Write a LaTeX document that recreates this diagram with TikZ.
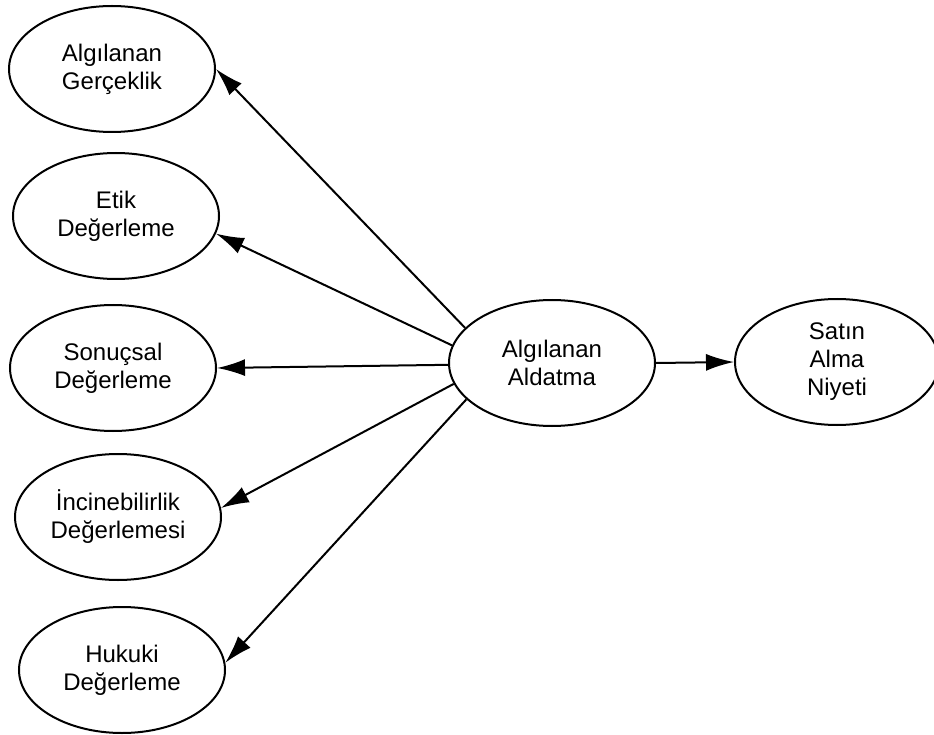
\documentclass[tikz,border=0pt]{standalone}
\usepackage{fontspec}
\setmainfont{Liberation Sans}
\usetikzlibrary{shapes.geometric,arrows.meta}
\begin{document}
\begin{tikzpicture}[x=1pt,y=-1pt,
  construct/.style={ellipse,draw,line width=2pt,inner sep=0pt,
    minimum width=206pt,minimum height=126pt,align=center,
    font=\fontsize{24}{28}\selectfont},
  link/.style={line width=2pt,-{Latex[length=28pt,width=17pt]}}]
  \useasboundingbox (0,0) rectangle (934,735);
  \clip (0,0) rectangle (934,735);
  \fill[white] (0,0) rectangle (934,735);

  % measured constructs on the left
  \node[construct] (ger) at (112,69)  {Algılanan\\Gerçeklik};
  \node[construct] (eti) at (116,216) {Etik\\Değerleme};
  \node[construct] (son) at (113,368) {Sonuçsal\\Değerleme};
  \node[construct] (inc) at (118,517) {İncinebilirlik\\Değerlemesi};
  \node[construct] (huk) at (122,670) {Hukuki\\Değerleme};

  % central construct and outcome
  \node[construct] (ald) at (552,363) {Algılanan\\Aldatma};
  \node[construct,minimum width=204pt] (niy) at (837,362) {Satın\\Alma\\Niyeti};

  % paths
  \draw[link] (ald.158)   -- (ger.0);
  \draw[link] (ald.170)   -- (eti.350);
  \draw[link] (ald.181)   -- (son.0);
  \draw[link] (ald.192.4) -- (inc.5);
  \draw[link] (ald.203.7) -- (huk.4.4);
  \draw[link] (ald.0)     -- (niy.180);
\end{tikzpicture}
\end{document}
